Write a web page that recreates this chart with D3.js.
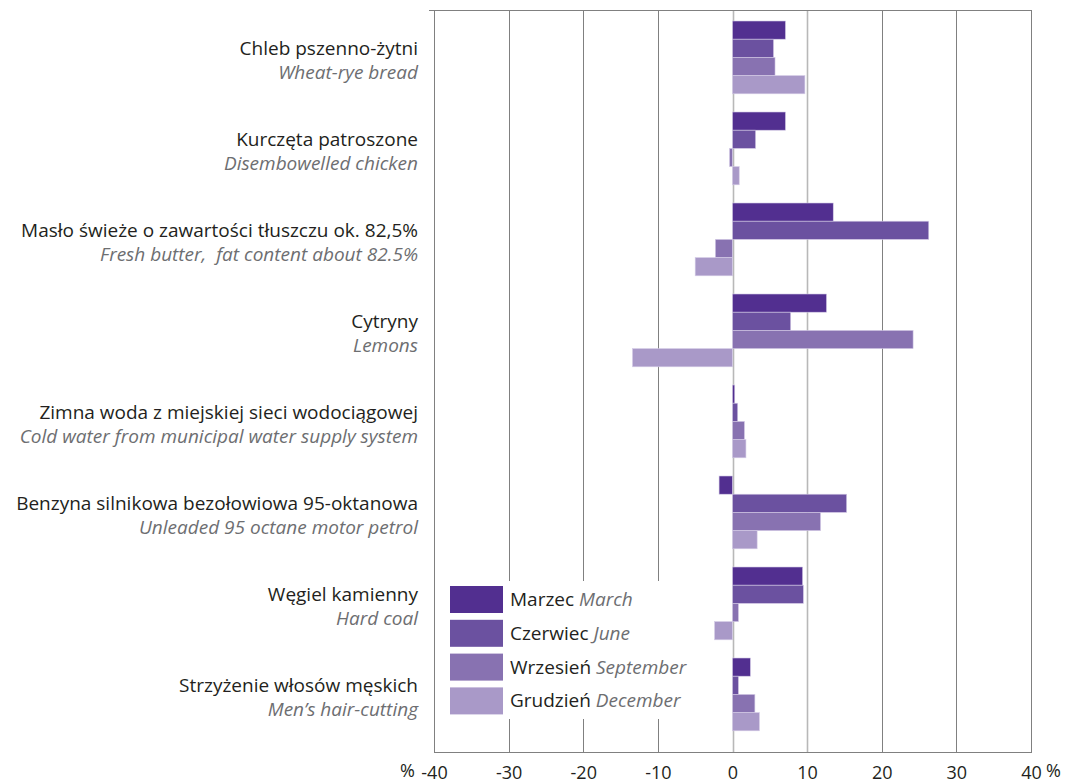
<!DOCTYPE html>
<html><head><meta charset="utf-8">
<script src="https://cdn.jsdelivr.net/npm/d3@7"></script>
<style>
body{margin:0;background:#fff;}
text{font-family:"Open Sans","Noto Sans",sans-serif;white-space:pre;}
</style></head>
<body><svg id="c" width="1069" height="782"></svg>
<script>
const categoriesPL = ["Chleb pszenno-żytni","Kurczęta patroszone","Masło świeże o zawartości tłuszczu ok. 82,5%","Cytryny","Zimna woda z miejskiej sieci wodociągowej","Benzyna silnikowa bezołowiowa 95-oktanowa","Węgiel kamienny","Strzyżenie włosów męskich"];
const categoriesEN = ["Wheat-rye bread","Disembowelled chicken","Fresh butter,  fat content about 82.5%","Lemons","Cold water from municipal water supply system","Unleaded 95 octane motor petrol","Hard coal","Men’s hair-cutting"];
const seriesPL = ["Marzec","Czerwiec","Wrzesień","Grudzień"];
const seriesEN = ["March","June","September","December"];
const march     = [7.1, 7.1, 13.5, 12.6, 0.3, -1.8, 9.4, 2.4];
const june      = [5.5, 3.1, 26.3,  7.8, 0.7, 15.3, 9.5, 0.8];
const september = [5.7, -0.4, -2.3, 24.2, 1.6, 11.8, 0.8, 3.0];
const december  = [9.7, 0.9, -5.0, -13.4, 1.8, 3.3, -2.4, 3.6];
const tickValues = [-40,-30,-20,-10,0,10,20,30,40];
const tickLabels = ["-40","-30","-20","-10","0","10","20","30","40"];

const series = [march, june, september, december];
const colors = ["#522f90","#6b51a0","#8872b1","#a999c8"];

const svg = d3.select("#c");
const x = d3.scaleLinear().domain([-40,40]).range([434, 1031]);
const yTop = 10, yBot = 752;
const y0 = d3.scaleBand().domain(d3.range(categoriesPL.length)).range([11.9, 739.9]).paddingInner(0.2).paddingOuter(0.1);
const y1 = d3.scaleBand().domain(d3.range(4)).range([0, y0.bandwidth()]);

// gridlines
const lightTicks = [0,10];
svg.append("g").selectAll("line").data(tickValues).join("line")
  .attr("x1", d=>Math.round(x(d))+0.5).attr("x2", d=>Math.round(x(d))+0.5)
  .attr("y1", yTop).attr("y2", yBot)
  .attr("stroke", d=> lightTicks.includes(d) ? "#b8b8b8" : "#808080")
  .attr("stroke-width", d=> lightTicks.includes(d) ? 1.6 : 1);
// top line
svg.append("line").attr("x1",429).attr("x2",x(40)+1).attr("y1",yTop+0.5).attr("y2",yTop+0.5).attr("stroke","#808080");
// bottom axis
const axis = d3.axisBottom(x).tickValues(tickValues).tickFormat((d,i)=>tickLabels[i]).tickSize(0).tickPadding(14);
const ag = svg.append("g").attr("transform",`translate(0,${yBot})`).call(axis);
ag.select(".domain").attr("stroke","#808080").attr("d",`M${x(-40)},0.5H${x(40)+1}`);
ag.selectAll(".tick text").attr("font-size",18).attr("fill","#231f20").attr("font-family","Open Sans");
svg.append("text").attr("x",x(-40)-19).attr("y",776.5).attr("text-anchor","end").attr("font-size",18).attr("fill","#231f20").text("%");
svg.append("text").attr("x",x(40)+15).attr("y",776.5).attr("text-anchor","start").attr("font-size",18).attr("fill","#231f20").text("%");

// bars
const groups = svg.append("g").selectAll("g").data(categoriesPL.map((c,i)=>i)).join("g")
  .attr("transform", i=>`translate(0,${y0(i)})`);
groups.selectAll("rect").data(i=>series.map((s,k)=>({k, v:s[i]}))).join("rect")
  .attr("x", d=>x(Math.min(0,d.v)))
  .attr("width", d=>Math.abs(x(d.v)-x(0)))
  .attr("y", d=>y1(d.k))
  .attr("height", y1.bandwidth())
  .attr("fill", d=>colors[d.k])
  .attr("stroke","#d4cbe6").attr("stroke-width",0.6);

// category labels
const lab = svg.append("g");
categoriesPL.forEach((c,i)=>{
  const cy = y0(i)+y0.bandwidth()/2;
  lab.append("text").attr("x",418).attr("y",cy-2).attr("text-anchor","end").attr("font-size",19).attr("fill","#231f20").text(c);
  lab.append("text").attr("x",418).attr("y",cy+21.5).attr("text-anchor","end").attr("font-size",19).attr("font-style","italic").attr("fill","#6d6e71").text(categoriesEN[i]);
});

// legend
const lg = svg.append("g");
lg.append("rect").attr("x",443).attr("y",581).attr("width",260).attr("height",138).attr("fill","#fff");
seriesPL.forEach((s,k)=>{
  const ly = 586 + k*33.8;
  lg.append("rect").attr("x",450).attr("y",ly).attr("width",53).attr("height",27).attr("fill",colors[k]);
  const t = lg.append("text").attr("x",510).attr("y",ly+20).attr("font-size",19);
  t.append("tspan").attr("fill","#231f20").text(s+" ");
  t.append("tspan").attr("fill","#6d6e71").attr("font-style","italic").text(seriesEN[k]);
});
</script></body></html>
